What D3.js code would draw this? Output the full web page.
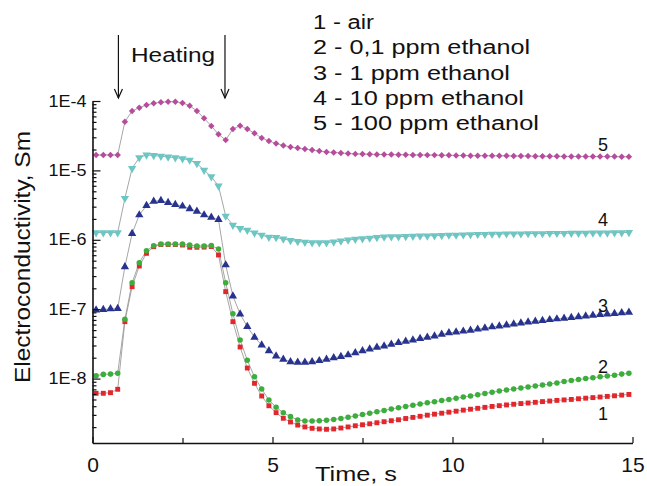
<!DOCTYPE html>
<html>
<head>
<meta charset="utf-8">
<script src="https://cdn.jsdelivr.net/npm/d3@7"></script>
<style>
  body { margin: 0; background: #fff; }
  text { font-family: "Liberation Sans", Arial, Helvetica, sans-serif; fill: #111; }
</style>
</head>
<body>
<div id="chart"></div>
<script>
// sample times, s
var times = [0.1, 0.3, 0.5, 0.7, 0.9, 1.1, 1.3, 1.5, 1.7, 1.9, 2.1, 2.3, 2.5, 2.7, 2.9,
    3.1, 3.3, 3.5, 3.7, 3.9, 4.1, 4.3, 4.5, 4.7, 4.9, 5.1, 5.3, 5.5, 5.7, 5.9,
    6.1, 6.3, 6.5, 6.7, 6.9, 7.1, 7.3, 7.5, 7.7, 7.9, 8.1, 8.3, 8.5, 8.7, 8.9,
    9.1, 9.3, 9.5, 9.7, 9.9, 10.1, 10.3, 10.5, 10.7, 10.9, 11.1, 11.3, 11.5, 11.7, 11.9,
    12.1, 12.3, 12.5, 12.7, 12.9, 13.1, 13.3, 13.5, 13.7, 13.9, 14.1, 14.3, 14.5, 14.7, 14.9];

// electroconductivity, Sm
var air = [6.14e-9, 6.14e-9, 6.27e-9, 7.01e-9, 6.61e-8,
    2.11e-7, 4.19e-7, 6.38e-7, 7.96e-7, 8.55e-7,
    8.55e-7, 8.55e-7, 8.41e-7, 7.80e-7, 7.80e-7,
    7.85e-7, 8.00e-7, 6.04e-7, 1.79e-7, 6.61e-8,
    2.85e-8, 1.42e-8, 8.55e-9, 5.61e-9, 4.06e-9,
    3.23e-9, 2.68e-9, 2.37e-9, 2.14e-9, 2.01e-9,
    1.92e-9, 1.88e-9, 1.86e-9, 1.88e-9, 1.94e-9,
    2.01e-9, 2.09e-9, 2.16e-9, 2.23e-9, 2.31e-9,
    2.39e-9, 2.47e-9, 2.55e-9, 2.66e-9, 2.76e-9,
    2.86e-9, 2.97e-9, 3.07e-9, 3.17e-9, 3.28e-9,
    3.39e-9, 3.51e-9, 3.62e-9, 3.73e-9, 3.85e-9,
    3.97e-9, 4.07e-9, 4.17e-9, 4.27e-9, 4.37e-9,
    4.45e-9, 4.55e-9, 4.66e-9, 4.75e-9, 4.85e-9,
    4.93e-9, 5.01e-9, 5.12e-9, 5.22e-9, 5.32e-9,
    5.43e-9, 5.54e-9, 5.65e-9, 5.78e-9, 5.91e-9];

var ethanol01 = [1.10e-8, 1.15e-8, 1.16e-8, 1.19e-8, 7.15e-8,
    2.41e-7, 4.68e-7, 6.97e-7, 8.22e-7, 8.69e-7,
    8.69e-7, 8.69e-7, 8.69e-7, 8.41e-7, 8.15e-7,
    8.15e-7, 8.28e-7, 7.36e-7, 2.41e-7, 8.61e-8,
    3.60e-8, 1.84e-8, 1.06e-8, 7.08e-9, 4.92e-9,
    3.86e-9, 3.23e-9, 2.83e-9, 2.53e-9, 2.45e-9,
    2.45e-9, 2.47e-9, 2.51e-9, 2.58e-9, 2.66e-9,
    2.77e-9, 2.89e-9, 3.03e-9, 3.17e-9, 3.33e-9,
    3.48e-9, 3.65e-9, 3.81e-9, 3.97e-9, 4.12e-9,
    4.29e-9, 4.47e-9, 4.65e-9, 4.82e-9, 5.00e-9,
    5.20e-9, 5.41e-9, 5.63e-9, 5.86e-9, 6.10e-9,
    6.35e-9, 6.61e-9, 6.85e-9, 7.08e-9, 7.32e-9,
    7.57e-9, 7.82e-9, 8.09e-9, 8.36e-9, 8.65e-9,
    9.08e-9, 9.39e-9, 9.71e-9, 1.00e-8, 1.03e-8,
    1.06e-8, 1.09e-8, 1.12e-8, 1.16e-8, 1.19e-8];

var ethanol1 = [9.73e-8, 9.90e-8, 1.01e-7, 1.02e-7, 4.09e-7,
    1.23e-6, 2.28e-6, 3.12e-6, 3.59e-6, 3.68e-6,
    3.44e-6, 3.21e-6, 3.05e-6, 2.80e-6, 2.58e-6,
    2.28e-6, 2.11e-6, 1.95e-6, 4.34e-7, 1.55e-7,
    8.53e-8, 5.60e-8, 3.94e-8, 3.05e-8, 2.52e-8,
    2.11e-8, 1.90e-8, 1.75e-8, 1.72e-8, 1.72e-8,
    1.75e-8, 1.81e-8, 1.90e-8, 1.99e-8, 2.08e-8,
    2.19e-8, 2.35e-8, 2.52e-8, 2.67e-8, 2.83e-8,
    2.95e-8, 3.12e-8, 3.29e-8, 3.45e-8, 3.60e-8,
    3.76e-8, 3.94e-8, 4.11e-8, 4.35e-8, 4.55e-8,
    4.69e-8, 4.82e-8, 4.97e-8, 5.15e-8, 5.34e-8,
    5.55e-8, 5.73e-8, 5.92e-8, 6.12e-8, 6.32e-8,
    6.50e-8, 6.70e-8, 6.87e-8, 7.06e-8, 7.23e-8,
    7.39e-8, 7.59e-8, 7.76e-8, 7.96e-8, 8.15e-8,
    8.34e-8, 8.50e-8, 8.67e-8, 8.85e-8, 9.02e-8];

var ethanol10 = [1.27e-6, 1.27e-6, 1.27e-6, 1.27e-6, 3.96e-6,
    1.07e-5, 1.53e-5, 1.67e-5, 1.64e-5, 1.60e-5,
    1.56e-5, 1.53e-5, 1.48e-5, 1.41e-5, 1.26e-5,
    1.01e-5, 8.11e-6, 5.96e-6, 2.20e-6, 1.63e-6,
    1.46e-6, 1.38e-6, 1.26e-6, 1.17e-6, 1.09e-6,
    1.08e-6, 1.03e-6, 9.77e-7, 9.46e-7, 9.21e-7,
    9.08e-7, 9.08e-7, 9.12e-7, 9.30e-7, 9.62e-7,
    9.93e-7, 1.02e-6, 1.04e-6, 1.06e-6, 1.08e-6,
    1.10e-6, 1.11e-6, 1.11e-6, 1.12e-6, 1.13e-6,
    1.14e-6, 1.14e-6, 1.15e-6, 1.16e-6, 1.17e-6,
    1.17e-6, 1.18e-6, 1.19e-6, 1.20e-6, 1.20e-6,
    1.21e-6, 1.21e-6, 1.22e-6, 1.22e-6, 1.22e-6,
    1.23e-6, 1.23e-6, 1.23e-6, 1.24e-6, 1.24e-6,
    1.24e-6, 1.25e-6, 1.25e-6, 1.25e-6, 1.26e-6,
    1.26e-6, 1.26e-6, 1.27e-6, 1.27e-6, 1.28e-6];

var ethanol100 = [1.67e-5, 1.67e-5, 1.67e-5, 1.67e-5, 5.03e-5,
    7.18e-5, 8.01e-5, 8.76e-5, 9.27e-5, 9.58e-5,
    9.77e-5, 9.77e-5, 9.36e-5, 8.56e-5, 7.18e-5,
    5.63e-5, 4.36e-5, 3.31e-5, 2.74e-5, 3.95e-5,
    4.41e-5, 3.95e-5, 3.43e-5, 2.93e-5, 2.65e-5,
    2.44e-5, 2.29e-5, 2.17e-5, 2.10e-5, 2.03e-5,
    1.97e-5, 1.91e-5, 1.84e-5, 1.81e-5, 1.78e-5,
    1.75e-5, 1.73e-5, 1.72e-5, 1.71e-5, 1.70e-5,
    1.69e-5, 1.69e-5, 1.68e-5, 1.68e-5, 1.67e-5,
    1.67e-5, 1.66e-5, 1.66e-5, 1.65e-5, 1.65e-5,
    1.64e-5, 1.64e-5, 1.63e-5, 1.63e-5, 1.63e-5,
    1.62e-5, 1.62e-5, 1.62e-5, 1.61e-5, 1.61e-5,
    1.61e-5, 1.60e-5, 1.60e-5, 1.60e-5, 1.60e-5,
    1.59e-5, 1.59e-5, 1.59e-5, 1.59e-5, 1.58e-5,
    1.58e-5, 1.58e-5, 1.58e-5, 1.57e-5, 1.57e-5];

var legendLabels = ["1 - air", "2 - 0,1 ppm ethanol", "3 - 1 ppm ethanol",
    "4 - 10 ppm ethanol", "5 - 100 ppm ethanol"];
var curveNumbers = ["1", "2", "3", "4", "5"];
var xTicks = [0, 5, 10, 15];
var xMinorTicks = [2.5, 7.5, 12.5];
var yTicks = [1e-8, 1e-7, 1e-6, 1e-5, 1e-4];
var heatingTimes = [0.72, 3.68];

var svgWidth = 647;
var svgHeight = 486;
var margin = { top: 101, right: 14.5, bottom: 43, left: 92.5 };

var svg = d3.select("#chart")
    .append("svg")
    .attr("width", svgWidth)
    .attr("height", svgHeight);

var x = d3.scaleLinear()
    .domain([0, 15])
    .range([margin.left, svgWidth - margin.right]);

var y = d3.scaleLog()
    .domain([1.18e-9, 1e-4])
    .range([svgHeight - margin.bottom, margin.top]);

// style per curve: colour, symbol, size, rotation
var series = [
    { values: air, color: "#e3262b", symbol: d3.symbolSquare, size: 24, rot: 0, dy: 17 },
    { values: ethanol01, color: "#3cae3c", symbol: d3.symbolCircle, size: 24, rot: 0, dy: -10 },
    { values: ethanol1, color: "#27338e", symbol: d3.symbolTriangle, size: 30, rot: 0, dy: -9 },
    { values: ethanol10, color: "#6cc6c4", symbol: d3.symbolTriangle, size: 30, rot: 180, dy: -13 },
    { values: ethanol100, color: "#b84c9c", symbol: d3.symbolSquare, size: 21, rot: 45, dy: -12 }
];

var line = d3.line()
    .x(function(d, i) { return x(times[i]); })
    .y(function(d) { return y(d); });

series.forEach(function(s) {
    svg.append("path")
        .attr("d", line(s.values))
        .attr("fill", "none")
        .attr("stroke", "#9c9c9c")
        .attr("stroke-width", 0.9);
});

series.forEach(function(s) {
    svg.append("g").selectAll("path")
        .data(s.values)
        .enter()
        .append("path")
        .attr("d", d3.symbol().type(s.symbol).size(s.size))
        .attr("transform", function(d, i) {
            return "translate(" + x(times[i]) + "," + y(d) + ") rotate(" + s.rot + ")";
        })
        .attr("fill", s.color);
});

// axes, ticks drawn inwards
var xAxis = svg.append("g")
    .attr("transform", "translate(0," + (svgHeight - margin.bottom) + ")")
    .call(d3.axisBottom(x).tickValues(xTicks).tickSizeInner(-6).tickSizeOuter(0).tickPadding(14));
xAxis.selectAll("text").attr("font-size", 21).attr("fill", "#111");

svg.append("g")
    .attr("transform", "translate(0," + (svgHeight - margin.bottom) + ")")
    .call(d3.axisBottom(x).tickValues(xMinorTicks).tickSize(-5).tickFormat(""))
    .call(function(g) { g.select(".domain").remove(); });

var yMinor = [];
for (var e = -9; e < -4; e++) {
    for (var k = 2; k < 10; k++) {
        var v = k * Math.pow(10, e);
        if (v > 1.18e-9 && v < 1e-4) yMinor.push(v);
    }
}

var yAxis = svg.append("g")
    .attr("transform", "translate(" + margin.left + ",0)")
    .call(d3.axisLeft(y).tickValues(yTicks).tickSizeInner(-8).tickSizeOuter(0).tickPadding(6)
        .tickFormat(function(d) { return "1E" + Math.round(Math.log10(d)); }));
yAxis.selectAll("text")
    .attr("font-size", 16)
    .attr("fill", "#111")
    .attr("textLength", 38)
    .attr("lengthAdjust", "spacingAndGlyphs");

svg.append("g")
    .attr("transform", "translate(" + margin.left + ",0)")
    .call(d3.axisLeft(y).tickValues(yMinor).tickSize(-4).tickFormat(""))
    .call(function(g) { g.select(".domain").remove(); });

svg.selectAll(".domain").attr("stroke", "#111").attr("stroke-width", 1.6);
svg.selectAll(".tick line").attr("stroke", "#111").attr("stroke-width", 1.2);

// axis titles
svg.append("text")
    .attr("x", 356)
    .attr("y", 481)
    .attr("text-anchor", "middle")
    .attr("font-size", 21)
    .attr("textLength", 82)
    .attr("lengthAdjust", "spacingAndGlyphs")
    .text("Time, s");

svg.append("text")
    .attr("transform", "translate(30,257) rotate(-90)")
    .attr("text-anchor", "middle")
    .attr("font-size", 22)
    .attr("textLength", 252)
    .attr("lengthAdjust", "spacingAndGlyphs")
    .text("Electroconductivity, Sm");

// legend
var legendWidths = [61, 217, 197, 211, 226];
svg.append("g").selectAll("text")
    .data(legendLabels)
    .enter()
    .append("text")
    .attr("x", 313)
    .attr("y", function(d, i) { return 29 + i * 25.3; })
    .attr("font-size", 20)
    .attr("textLength", function(d, i) { return legendWidths[i]; })
    .attr("lengthAdjust", "spacingAndGlyphs")
    .text(function(d) { return d; });

// curve numbers near the right end
series.forEach(function(s, i) {
    svg.append("text")
        .attr("x", x(times[70]) + 3)
        .attr("y", y(s.values[70]) + s.dy)
        .attr("dy", "0.35em")
        .attr("text-anchor", "middle")
        .attr("font-size", 18)
        .text(curveNumbers[i]);
});

// heating arrows
heatingTimes.forEach(function(t) {
    var ax = x(t);
    svg.append("line")
        .attr("x1", ax).attr("x2", ax)
        .attr("y1", 35).attr("y2", 98)
        .attr("stroke", "#111").attr("stroke-width", 1.2);
    svg.append("path")
        .attr("d", "M" + (ax - 4) + ",89 L" + ax + ",98 L" + (ax + 4) + ",89")
        .attr("fill", "none")
        .attr("stroke", "#111")
        .attr("stroke-width", 1.2);
});

svg.append("text")
    .attr("x", 131)
    .attr("y", 61.5)
    .attr("font-size", 20)
    .attr("textLength", 84)
    .attr("lengthAdjust", "spacingAndGlyphs")
    .text("Heating");
</script>
</body>
</html>
